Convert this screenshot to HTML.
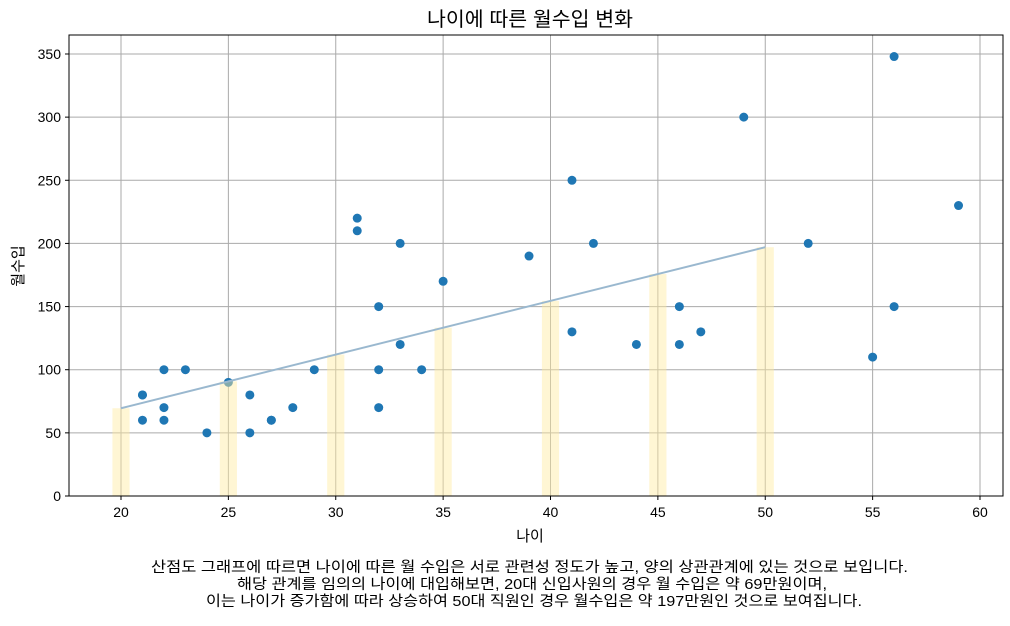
<!DOCTYPE html>
<html><head><meta charset="utf-8"><style>
body{margin:0;background:#fff;}
svg text{font-family:"Liberation Sans","Noto Sans CJK KR",sans-serif;fill:#000;}
</style></head><body>
<svg id="chart" width="1010" height="621" xmlns="http://www.w3.org/2000/svg">
<text x="530" y="26" font-size="20" text-anchor="middle" textLength="206" lengthAdjust="spacingAndGlyphs">나이에 따른 월수입 변화</text>
<text x="530" y="541" font-size="15" text-anchor="middle">나이</text>
<text transform="translate(23,266) rotate(-90)" font-size="15" text-anchor="middle">월수입</text>
<g font-size="14.5">
<text x="151" y="572" textLength="757" lengthAdjust="spacingAndGlyphs">산점도 그래프에 따르면 나이에 따른 월 수입은 서로 관련성 정도가 높고, 양의 상관관계에 있는 것으로 보입니다.</text>
<text x="237" y="589" textLength="590" lengthAdjust="spacingAndGlyphs">해당 관계를 임의의 나이에 대입해보면, 20대 신입사원의 경우 월 수입은 약 69만원이며,</text>
<text x="206" y="606" textLength="656" lengthAdjust="spacingAndGlyphs">이는 나이가 증가함에 따라 상승하여 50대 직원인 경우 월수입은 약 197만원인 것으로 보여집니다.</text>
</g>
<g id="grid"></g><g id="pts"></g><g id="bars"></g><g id="line"></g><g id="ticks"></g>
<rect x="69" y="35" width="934" height="461" fill="none" stroke="#000" stroke-width="1"/>
</svg>
<script>
const ages=[21,21,21,22,22,22,23,24,25,26,26,27,27,28,29,31,31,32,32,32,33,33,34,35,39,41,41,42,44,46,46,47,49,52,55,56,56,59];
const incomes=[80,80,60,100,70,60,100,50,90,80,50,60,60,70,100,220,210,150,100,70,200,120,100,170,190,250,130,200,120,150,120,130,300,200,110,348,150,230];
const barAges=[20,25,30,35,40,45,50];
const lineStart=[20,69.5];
const lineEnd=[50,197];
const xTicks=[20,25,30,35,40,45,50,55,60];
const yTicks=[0,50,100,150,200,250,300,350];
const NS='http://www.w3.org/2000/svg';
const X=v=>121+(v-20)*21.475;
const Y=v=>496-v*1.2629;
const slope=(lineEnd[1]-lineStart[1])/(lineEnd[0]-lineStart[0]);
const reg=a=>lineStart[1]+slope*(a-lineStart[0]);
function mk(tag,attrs,parent){const e=document.createElementNS(NS,tag);for(const k in attrs)e.setAttribute(k,attrs[k]);document.getElementById(parent).appendChild(e);return e;}
xTicks.forEach(t=>{
 const g=mk('line',{x1:X(t),x2:X(t),y1:35,y2:496,stroke:'#aaaaaa','stroke-width':1},'grid');
 
 
 mk('line',{x1:X(t),x2:X(t),y1:496,y2:500,stroke:'#000'},'ticks');
 const tx=mk('text',{x:X(t),y:517,'font-size':14,'text-anchor':'middle'},'ticks');
 tx.textContent=t;
 
 
});
yTicks.forEach(t=>{
 const g=mk('line',{x1:69,x2:1003,y1:Y(t),y2:Y(t),stroke:'#aaaaaa','stroke-width':1},'grid');
 
 
 mk('line',{x1:65,x2:69,y1:Y(t),y2:Y(t),stroke:'#000'},'ticks');
 const tx=mk('text',{x:61,y:Y(t)+5,'font-size':14,'text-anchor':'end'},'ticks');
 tx.textContent=t;
 
 
});
ages.forEach((a,i)=>{
 const c=mk('circle',{cx:X(a),cy:Y(incomes[i]),r:4.5,fill:'#1f77b4'},'pts');
 
 
});
barAges.forEach(a=>{
 const v=reg(a);
 const b=mk('rect',{x:X(a-0.4),y:Y(v),width:0.8*21.475,height:Y(0)-Y(v),fill:'#ffeaa0','fill-opacity':0.45},'bars');
 
 
});
const l=mk('line',{x1:X(lineStart[0]),y1:Y(lineStart[1]),x2:X(lineEnd[0]),y2:Y(lineEnd[1]),stroke:'#9ab8cf','stroke-width':2},'line');


</script>
</body></html>
